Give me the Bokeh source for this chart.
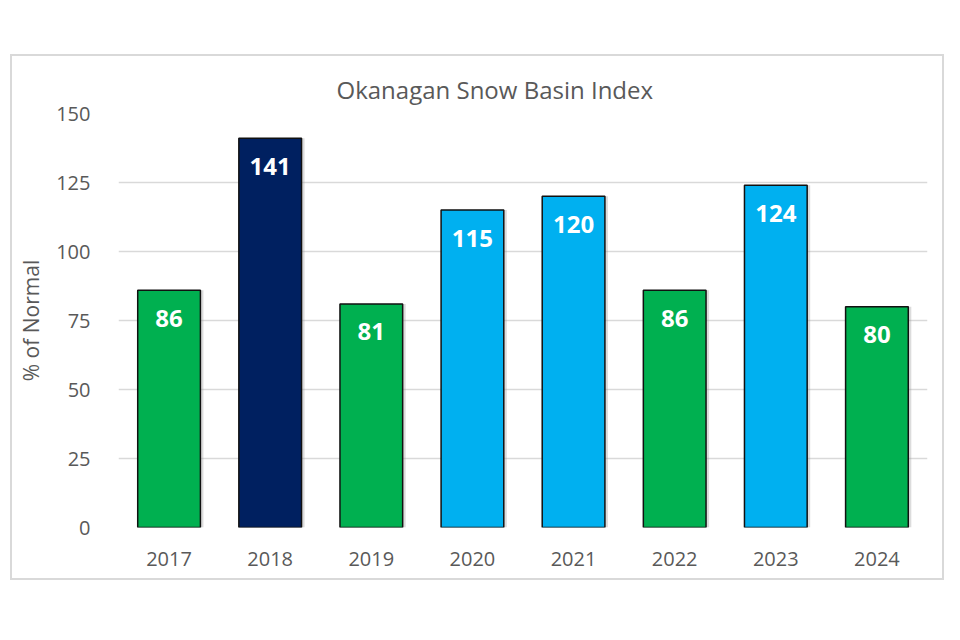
from bokeh.plotting import figure
from bokeh.models import ColumnDataSource, Title, FixedTicker
from bokeh.transform import dodge
from bokeh.embed import file_html
from bokeh.resources import INLINE
from bokeh.core.properties import value

years = ["2017", "2018", "2019", "2020", "2021", "2022", "2023", "2024"]
pct_normal = [86, 141, 81, 115, 120, 86, 124, 80]
bar_colors = ["#00B050", "#002060", "#00B050", "#00B0F0", "#00B0F0", "#00B050", "#00B0F0", "#00B050"]
y_ticks = [0, 25, 50, 75, 100, 125, 150]

src = ColumnDataSource(dict(year=years, val=pct_normal, color=bar_colors,
                            lab=[str(v) for v in pct_normal]))

FONT = "Open Sans"
GRAY = "#595959"

p = figure(x_range=years, y_range=(0, 150), width=934, height=526,
           output_backend="svg", toolbar_location=None,
           min_border_left=106, min_border_right=19, min_border_top=57, min_border_bottom=55)
p.margin = (54, 0, 0, 10)
p.styles = {"border": "2px solid #d9d9d9"}
p.outline_line_color = None
p.background_fill_color = "white"
p.border_fill_color = "white"

# soft shadow
p.vbar(x=dodge("year", 0.03, range=p.x_range), top="val", width=0.62, source=src,
       fill_color="#9a9a9a", fill_alpha=0.35, line_color=None)
p.vbar(x="year", top="val", width=0.62, source=src, fill_color="color",
       line_color="#111111", line_width=1.5)
p.text(x="year", y="val", text="lab", source=src, text_color="white",
       text_font=value(FONT), text_font_style="bold", text_font_size="24px",
       text_align="center", text_baseline="middle", y_offset=28)

p.add_layout(Title(text="Okanagan Snow Basin Index", align="left", offset=218,
                   text_font=FONT, text_font_size="24px", text_font_style="normal",
                   text_color=GRAY, standoff=16), "above")

p.yaxis.ticker = FixedTicker(ticks=y_ticks)
p.yaxis.axis_line_color = None
p.yaxis.major_tick_line_color = None
p.yaxis.minor_tick_line_color = None
p.yaxis.major_label_text_font = FONT
p.yaxis.major_label_text_font_size = "20px"
p.yaxis.major_label_text_color = GRAY
p.yaxis.major_label_standoff = 22
p.yaxis.axis_label = "% of Normal"
p.yaxis.axis_label_text_font = FONT
p.yaxis.axis_label_text_font_size = "21px"
p.yaxis.axis_label_text_font_style = "normal"
p.yaxis.axis_label_text_color = GRAY
p.yaxis.axis_label_standoff = 8

p.xaxis.axis_line_color = None
p.xaxis.major_tick_line_color = None
p.xaxis.minor_tick_line_color = None
p.xaxis.major_label_text_font = FONT
p.xaxis.major_label_text_font_size = "20px"
p.xaxis.major_label_text_color = GRAY
p.xaxis.major_label_standoff = 18

p.xgrid.grid_line_color = None
p.ygrid.grid_line_color = "#d9d9d9"
p.ygrid.grid_line_width = 1.5
p.x_range.range_padding = 0.0

open("out.html", "w").write(file_html(p, INLINE))
